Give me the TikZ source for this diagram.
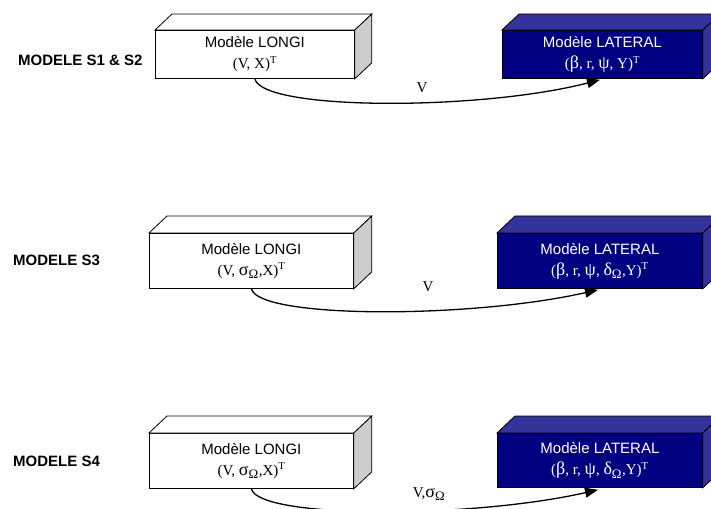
\documentclass[tikz,border=0pt]{standalone}
\usepackage{fontspec}
\setmainfont{Liberation Serif}
\setsansfont{Liberation Sans}
\usetikzlibrary{arrows.meta,calc}
\definecolor{navyfront}{RGB}{0,0,128}
\definecolor{navytop}{RGB}{51,51,153}
\definecolor{greyside}{RGB}{204,204,204}
\newcommand{\cuboidfaces}[5]{%
  \draw[face,fill=#2] (#1.north west) -- ++(#4,-#5) -- ($(#1.north east)+(#4,-#5)$) -- (#1.north east) -- cycle;
  \draw[face,fill=#3] (#1.north east) -- ++(#4,-#5) -- ($(#1.south east)+(#4,-#5)$) -- (#1.south east) -- cycle;
}
\newcommand{\biggk}[1]{{\fontsize{18bp}{21bp}\selectfont #1}}
\newcommand{\subOm}{\textsubscript{\fontsize{13bp}{15bp}\selectfont Ω}}
\begin{document}
\begin{tikzpicture}[x=1bp,y=-1bp,
  face/.style={draw=black,line width=0.8bp,line join=miter},
  boxbase/.style={face,anchor=north west,inner sep=0pt,align=center,
    font=\fontsize{15bp}{21bp}\selectfont},
  longibox/.style={boxbase,fill=white,text=black},
  latbox/.style={boxbase,fill=navyfront,text=white},
  rowlabel/.style={anchor=west,inner sep=0pt,font=\fontsize{15bp}{18bp}\selectfont\sffamily\bfseries},
  conn/.style={line width=1.3bp,-{Triangle[length=13bp,width=10bp]}},
  flowlabel/.style={inner sep=0pt,font=\fontsize{15bp}{18bp}\selectfont}]
\useasboundingbox (0,0) rectangle (711,509);
\clip (0,0) rectangle (711,509);

% ---------- Row 1 ----------
\node[rowlabel] (lab1) at (18,60) {MODELE S1 \& S2};
\node[longibox,minimum width=199bp,minimum height=48bp] (L1) at (155,30)
  {{\sffamily Modèle LONGI}\\(V, X)\textsuperscript{T}};
\cuboidfaces{L1}{white}{greyside}{17}{16}
\node[latbox,minimum width=200bp,minimum height=48bp] (R1) at (502,30)
  {{\sffamily Modèle LATERAL}\\(\biggk{β}, r, \biggk{ψ}, Y)\textsuperscript{T}};
\cuboidfaces{R1}{navytop}{navytop}{17}{16}
\coordinate (t1) at ($(R1.south west)+(98,1)$);
\draw[conn] (L1.south) .. controls +(7,32) and +(-120,31) .. (t1);
\node[flowlabel] (v1) at (422,88) {V};

% ---------- Row 2 ----------
\node[rowlabel] (lab2) at (13,260) {MODELE S3};
\node[longibox,minimum width=204bp,minimum height=55bp] (L2) at (149,233)
  {{\sffamily Modèle LONGI}\\(V, \biggk{σ}\subOm,X)\textsuperscript{T}};
\cuboidfaces{L2}{white}{greyside}{18}{17}
\node[latbox,minimum width=205bp,minimum height=55bp] (R2) at (497,233)
  {{\sffamily Modèle LATERAL}\\(\biggk{β}, r, \biggk{ψ}, \biggk{δ}\subOm,Y)\textsuperscript{T}};
\cuboidfaces{R2}{navytop}{navytop}{18}{17}
\coordinate (t2) at ($(R2.south west)+(101,1)$);
\draw[conn] (L2.south) .. controls +(7,30) and +(-128,29) .. (t2);
\node[flowlabel] (v2) at (428,287) {V};

% ---------- Row 3 ----------
\node[rowlabel] (lab3) at (13,461) {MODELE S4};
\node[longibox,minimum width=204bp,minimum height=55bp] (L3) at (149,433)
  {{\sffamily Modèle LONGI}\\(V, \biggk{σ}\subOm,X)\textsuperscript{T}};
\cuboidfaces{L3}{white}{greyside}{18}{17}
\node[latbox,minimum width=205bp,minimum height=54bp] (R3) at (497,433)
  {{\sffamily Modèle LATERAL}\\(\biggk{β}, r, \biggk{ψ}, \biggk{δ}\subOm,Y)\textsuperscript{T}};
\cuboidfaces{R3}{navytop}{navytop}{18}{17}
\coordinate (t3) at ($(R3.south west)+(101,2)$);
\draw[conn] (L3.south) .. controls +(7,30) and +(-128,29) .. (t3);
\node[flowlabel] (v3) at (429,494) {V,\biggk{σ}\subOm};
\end{tikzpicture}
\end{document}
